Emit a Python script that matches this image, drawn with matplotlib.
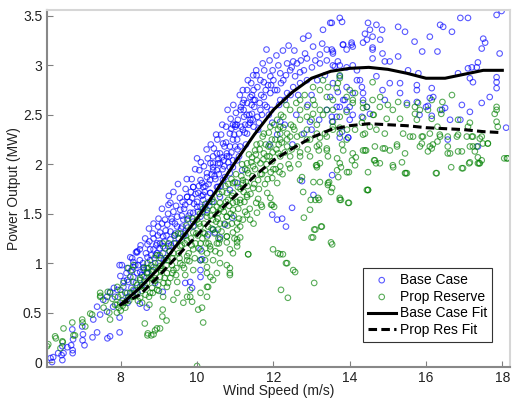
import matplotlib
matplotlib.use("Agg")
import matplotlib.pyplot as plt

# wind speed (m/s), power (MW)
base_case = [
    (6.16, 0.04), (6.2, 0.0), (6.47, 0.02), (6.45, 0.07), (6.74, 0.09), (6.7, 0.17), (7.0, 0.22), (7.05, 0.17),
    (7.26, 0.25), (7.65, 0.24), (7.97, 0.3), (6.5, 0.09), (6.74, 0.12), (7.97, 0.45), (8.5, 0.59), (8.68, 0.55),
    (7.97, 0.98), (8.4, 1.11), (8.9, 0.8), (9.1, 0.71), (7.72, 0.26), (7.38, 0.3), (7.01, 0.28), (6.75, 0.23),
    (6.6, 0.15), (6.36, 0.09), (6.23, 0.05), (6.47, 0.16), (6.73, 0.33), (6.99, 0.36), (7.28, 0.43), (7.46, 0.48),
    (7.64, 0.51), (7.8, 0.56), (7.54, 0.63), (7.38, 0.56), (7.85, 0.66), (7.91, 0.73), (8.07, 0.76), (8.2, 0.81),
    (8.33, 0.86), (8.51, 0.91), (8.6, 0.96), (8.77, 1.03), (8.95, 1.1), (9.11, 1.17), (9.3, 1.24), (9.43, 1.3),
    (9.61, 1.37), (9.74, 1.44), (9.9, 1.51), (10.09, 1.57), (9.03, 1.31),
    (10.0, 2.06), (10.52, 2.11), (10.6, 2.01), (10.42, 1.94), (10.26, 1.87), (10.16, 1.77), (10.03, 1.71),
    (9.87, 1.66), (9.69, 1.59), (9.3, 1.61), (9.56, 1.54), (9.48, 1.47), (9.35, 1.42), (9.22, 1.39), (8.86, 1.25),
    (8.7, 1.19), (8.5, 1.14), (8.43, 1.11), (8.33, 1.01), (8.17, 0.95), (8.03, 0.98), (7.82, 0.75), (7.72, 0.71),
    (8.98, 1.37), (9.16, 1.44), (9.38, 1.52), (9.74, 1.67), (9.9, 1.77), (10.09, 1.84), (10.35, 2.01), (10.42, 2.08),
    (8.77, 1.14), (8.95, 1.2), (9.11, 1.27), (9.3, 1.32), (9.48, 1.37), (9.64, 1.44), (9.82, 1.51), (10.0, 1.57),
    (10.16, 1.64), (10.35, 1.71), (10.52, 1.77), (10.68, 1.84), (10.86, 1.91), (10.94, 1.97), (11.05, 2.04),
    (8.25, 1.06), (8.33, 0.96), (8.5, 1.03), (8.7, 1.06), (8.86, 1.14), (9.03, 1.2), (7.99, 0.87), (8.17, 0.83),
    (8.43, 0.9), (8.6, 0.93), (9.11, 1.1), (9.25, 1.17), (9.64, 1.27), (9.9, 1.37), (10.09, 1.47), (10.26, 1.54),
    (10.6, 1.67), (10.86, 1.74), (9.82, 0.81), (9.69, 0.8), (10.09, 0.86), (10.09, 1.03), (10.47, 1.31),
    (11.05, 1.81), (11.18, 1.94), (7.64, 0.66), (9.25, 1.59), (8.43, 1.12), (10.09, 0.93), (10.09, 1.14),
    (10.13, 1.04), (9.87, 0.75),
    (10.94, 2.4), (10.86, 2.31), (10.68, 2.21), (10.6, 2.11), (10.42, 2.01), (10.26, 1.91), (10.13, 1.81),
    (10.34, 1.84), (10.52, 1.94), (10.78, 2.08), (11.05, 2.25), (11.2, 2.35), (11.39, 2.42), (11.13, 2.18),
    (10.94, 2.04), (10.16, 1.69), (10.34, 1.71), (10.55, 1.77), (10.73, 1.87), (10.86, 1.97), (10.21, 1.57),
    (10.42, 1.34), (10.92, 1.46), (10.73, 1.39), (10.6, 1.26), (10.29, 1.29), (11.97, 1.49), (13.05, 1.69),
    (13.54, 1.89), (13.74, 2.27), (13.96, 2.27), (12.8, 2.31), (12.96, 2.43), (13.54, 2.43), (12.1, 1.44),
    (12.23, 1.45), (12.33, 1.37), (12.18, 2.43), (11.97, 2.42), (12.49, 1.56), (12.75, 1.83),
    (13.74, 3.48), (13.8, 3.44), (13.49, 3.43), (13.3, 3.36), (14.05, 3.23), (14.08, 3.19), (13.83, 3.21),
    (13.92, 3.16), (13.56, 3.14), (13.4, 3.16), (13.22, 3.11), (13.04, 3.19), (12.78, 3.27), (12.83, 3.12),
    (12.88, 3.07), (12.62, 3.02), (12.52, 3.04), (12.36, 3.02), (12.13, 3.0), (11.82, 3.16), (12.44, 2.95),
    (12.18, 2.92), (11.92, 2.89), (11.75, 2.83), (12.0, 2.85), (12.26, 2.85), (12.57, 2.89), (12.7, 2.93),
    (13.01, 2.98), (13.22, 3.02), (13.4, 3.05), (13.56, 3.0), (13.74, 3.0), (13.92, 2.98), (14.08, 3.0),
    (14.19, 2.95), (14.19, 2.85), (13.92, 2.78), (14.08, 2.72), (13.83, 2.65), (14.0, 2.58), (13.66, 2.58),
    (13.49, 2.68), (13.4, 2.55), (13.66, 2.48), (14.08, 2.5), (11.66, 2.85), (11.58, 2.78), (11.48, 2.75),
    (11.31, 2.75), (11.4, 2.68), (11.23, 2.65), (11.15, 2.58), (11.31, 2.62), (11.48, 2.65), (11.75, 2.68),
    (11.92, 2.72), (12.1, 2.75), (11.83, 2.58), (11.66, 2.55), (11.44, 2.51), (11.23, 2.48), (11.07, 2.45),
    (11.0, 2.38), (11.1, 2.31), (10.94, 2.25), (10.86, 2.18), (10.78, 2.11), (10.65, 2.07), (10.55, 2.01),
    (10.42, 1.97), (10.7, 2.04), (11.26, 2.4), (11.4, 2.45), (11.58, 2.48), (11.31, 2.31), (11.48, 2.38),
    (12.18, 2.65), (12.36, 2.72), (12.52, 2.78), (12.7, 2.82), (12.88, 2.85), (11.44, 2.7), (11.2, 2.62),
    (11.0, 2.4), (9.9, 1.77), (9.74, 1.67), (12.3, 2.4), (12.6, 2.5), (12.9, 2.6), (13.2, 2.45), (12.5, 2.2),
    (13.0, 2.35), (12.1, 2.3), (11.9, 2.2),
    (13.53, 3.43), (14.48, 3.43), (14.7, 3.41), (14.85, 3.36), (14.4, 3.32), (14.53, 3.36), (15.27, 3.39),
    (15.45, 3.34), (16.1, 3.29), (16.37, 3.41), (16.45, 3.39), (16.68, 3.34), (16.9, 3.48), (17.1, 3.48),
    (17.85, 3.51), (17.98, 3.55), (17.5, 3.27), (17.55, 3.23), (17.46, 3.17), (17.93, 3.12), (16.3, 3.14),
    (15.9, 3.14), (15.7, 3.24), (13.82, 3.21), (14.05, 3.21), (14.35, 3.23), (14.45, 3.26), (14.6, 3.29),
    (14.8, 3.26), (14.6, 3.18), (14.86, 3.12), (14.6, 3.07), (14.92, 3.04), (15.05, 3.04), (15.27, 3.09),
    (15.53, 2.95), (15.8, 2.92), (15.76, 2.8), (15.76, 2.75), (16.15, 2.77), (16.1, 2.67), (16.19, 2.68),
    (16.84, 2.92), (17.15, 2.87), (17.23, 2.83), (17.1, 2.97), (17.2, 2.98), (17.33, 2.98), (17.36, 3.03),
    (17.85, 2.88), (17.85, 2.83), (17.85, 2.77), (17.67, 2.68), (17.46, 2.62), (17.15, 2.53), (16.94, 2.6),
    (16.5, 2.57), (16.42, 2.55), (16.05, 2.59), (16.15, 2.49), (16.63, 2.45), (15.83, 2.5), (15.5, 2.62),
    (15.32, 2.72), (15.05, 2.82), (15.32, 2.82), (16.0, 2.58), (18.1, 2.37), (17.36, 2.18), (16.57, 2.25),
    (16.9, 2.45), (15.76, 2.63), (13.53, 3.16), (13.56, 3.12), (13.69, 3.04), (13.61, 2.99), (13.74, 2.89),
    (13.56, 2.82), (13.69, 2.73), (13.87, 2.65), (13.74, 2.58), (13.92, 2.55), (13.53, 2.48), (14.0, 2.45),
    (13.8, 2.33), (13.96, 2.27), (14.27, 2.85), (14.32, 2.78), (14.35, 2.72), (14.35, 2.65), (14.45, 2.58),
    (14.53, 2.51), (14.32, 2.48), (14.7, 2.89), (14.86, 2.75), (14.92, 2.65), (14.6, 3.16),
    (8.05, 0.62), (8.12, 0.7), (8.2, 0.66), (8.28, 0.75), (8.35, 0.72), (8.4, 0.8), (8.46, 0.98), (8.55, 0.88),
    (8.15, 0.9), (8.3, 1.05), (8.58, 1.0), (8.62, 0.82), (8.66, 1.1), (8.72, 0.95), (8.8, 1.08), (8.84, 1.3),
    (8.9, 1.0), (8.93, 1.18), (8.97, 1.28), (8.75, 1.22), (9.05, 1.05), (9.08, 1.4), (9.14, 1.22), (9.18, 1.33),
    (9.24, 1.5), (9.28, 1.12), (9.33, 1.45), (9.4, 1.28), (9.45, 1.58), (9.42, 1.4), (9.52, 1.25), (9.55, 1.66),
    (9.6, 1.48), (9.66, 1.55), (9.7, 1.75), (9.76, 1.36), (9.8, 1.62), (9.86, 1.85), (9.92, 1.6), (9.96, 1.7),
    (10.02, 1.52), (10.06, 1.94), (10.12, 1.68), (10.18, 1.98), (10.22, 1.78), (10.28, 2.06), (10.32, 1.62),
    (10.38, 1.9), (10.44, 2.16), (10.48, 1.85), (10.53, 2.25), (10.57, 1.9), (10.63, 2.3), (10.67, 1.95),
    (10.72, 2.18), (10.76, 2.38), (10.82, 2.02), (10.88, 2.46), (10.9, 2.12), (10.97, 2.3), (11.02, 2.52),
    (11.06, 2.15), (11.12, 2.7), (11.16, 2.38), (11.22, 2.55), (11.28, 2.2), (11.33, 2.85), (11.37, 2.5),
    (11.43, 2.6), (11.47, 2.9), (11.52, 2.65), (11.55, 2.95), (11.62, 2.42), (11.68, 2.7), (11.72, 3.02),
    (11.78, 2.6), (11.86, 2.8), (11.9, 3.05), (11.95, 2.55), (11.98, 2.95), (12.04, 2.75), (12.08, 3.1),
    (12.15, 2.6), (12.2, 2.82), (12.25, 3.15), (12.3, 2.65), (12.33, 2.9), (12.4, 3.2), (12.45, 2.7),
    (12.48, 2.98), (12.55, 3.15), (12.65, 2.7), (12.72, 3.05), (12.8, 2.95), (12.92, 3.3), (13.0, 2.7),
    (13.1, 3.05), (13.15, 2.85), (13.28, 3.22), (13.35, 2.9),
    (8.08, 0.82), (8.18, 0.6), (8.26, 0.92), (8.38, 0.98), (8.44, 0.7), (8.52, 1.18), (8.56, 0.78), (8.64, 1.25),
    (8.68, 0.9), (8.74, 1.35), (8.82, 0.92), (8.86, 1.4), (8.92, 1.08), (8.99, 1.45), (9.02, 1.15), (9.08, 1.55),
    (9.13, 1.03), (9.2, 1.28), (9.26, 1.68), (9.32, 1.18), (9.38, 1.72), (9.44, 1.2), (9.5, 1.8), (9.58, 1.35),
    (9.62, 1.62), (9.68, 1.3), (9.73, 1.85), (9.78, 1.48), (9.84, 1.72), (9.9, 1.42), (9.95, 1.95), (10.0, 1.62),
    (10.05, 1.78), (10.1, 2.02), (10.15, 1.52), (10.2, 1.72), (10.25, 2.15), (10.3, 1.8), (10.36, 2.2),
    (10.4, 1.62), (10.46, 1.88), (10.5, 2.3), (10.56, 2.05), (10.62, 1.78), (10.66, 2.4), (10.71, 1.98),
    (10.76, 2.22), (10.8, 2.55), (10.84, 2.08), (10.9, 2.36), (10.95, 2.6), (11.0, 2.18), (11.04, 2.4),
    (11.1, 2.08), (11.14, 2.55), (11.2, 2.75), (11.25, 2.32), (11.3, 2.5), (11.35, 2.4), (11.42, 2.82),
    (11.46, 2.45), (11.5, 2.58), (11.56, 2.9), (11.6, 2.35), (11.64, 2.62), (11.7, 2.5), (11.76, 2.95),
    (11.8, 2.75), (11.88, 2.5), (11.94, 2.8),
]

prop_reserve = [
    (6.07, 0.16), (6.3, 0.24), (6.48, 0.2), (6.42, 0.14), (6.8, 0.27), (8.7, 0.27), (8.8, 0.27), (8.9, 0.32),
    (10.0, -0.04), (6.5, 0.34), (6.76, 0.27), (7.0, 0.4), (7.2, 0.49), (7.47, 0.67), (7.66, 0.71), (7.9, 0.58),
    (8.2, 0.95), (8.63, 0.39), (8.95, 0.34), (9.1, 0.53), (9.2, 0.42), (6.99, 0.43), (6.73, 0.4), (6.28, 0.26),
    (6.1, 0.18), (6.47, 0.21), (7.25, 0.48), (7.46, 0.66), (7.46, 0.7), (7.07, 0.36), (7.72, 0.43), (7.99, 0.6),
    (7.93, 0.66), (8.17, 0.63), (8.25, 0.7), (8.43, 0.78), (8.51, 0.83), (8.6, 0.86), (8.71, 0.91), (8.86, 0.96),
    (8.99, 1.0), (8.33, 0.98), (8.3, 0.93), (7.95, 0.55), (8.0, 0.52), (8.05, 0.57), (7.9, 0.5), (8.1, 0.6),
    (8.71, 0.29), (8.86, 0.28), (9.03, 0.34), (9.09, 0.46), (9.38, 0.63), (9.64, 0.6), (9.82, 0.66), (9.87, 0.61),
    (10.03, 0.53), (10.13, 0.55), (10.16, 0.4), (10.26, 0.66), (10.29, 0.76), (10.35, 0.86), (10.52, 0.9),
    (10.86, 0.88), (11.34, 1.09), (10.94, 1.1), (10.78, 0.98), (9.74, 1.03), (9.35, 0.9),
    (10.0, 1.44), (10.26, 1.51), (10.52, 1.57), (10.94, 1.61), (11.26, 1.52), (11.05, 1.41), (10.78, 1.27),
    (11.05, 1.21), (10.52, 1.2), (10.26, 1.1),
    (7.99, 0.73), (8.17, 0.7), (8.33, 0.73), (8.51, 0.76), (8.69, 0.8), (8.86, 0.83), (9.03, 0.86), (9.21, 0.9),
    (9.38, 0.93), (9.56, 1.0), (9.74, 1.07), (9.9, 1.14), (10.09, 1.2), (10.26, 1.27), (10.42, 1.34), (10.6, 1.4),
    (10.78, 1.47), (10.94, 1.54), (11.13, 1.61), (11.31, 1.67), (11.2, 1.81), (11.31, 1.94), (10.94, 1.81),
    (10.78, 1.71), (10.6, 1.61), (10.42, 1.54), (10.26, 1.47), (10.09, 1.37), (9.9, 1.31), (9.74, 1.23),
    (9.56, 1.17), (9.38, 1.1), (9.21, 1.03), (9.03, 0.97), (8.86, 0.93), (8.69, 0.9), (8.51, 0.85), (8.33, 0.81),
    (8.25, 0.86), (8.07, 0.8), (7.91, 0.76), (7.72, 0.7), (8.95, 0.73), (9.21, 0.76), (9.48, 0.81), (9.69, 0.88),
    (9.9, 0.93), (10.09, 1.03), (10.35, 1.14), (10.57, 1.2), (10.78, 1.27), (11.05, 1.34), (11.2, 1.44),
    (10.6, 1.0), (10.86, 1.14), (11.05, 1.24), (10.09, 0.7), (10.26, 0.76), (10.42, 0.83), (9.82, 0.73),
    (9.74, 0.66), (9.48, 0.7), (8.77, 0.7), (8.33, 0.66), (8.51, 0.65), (9.11, 0.66),
    (12.18, 2.31), (12.36, 2.25), (12.62, 2.18), (12.7, 2.12), (12.44, 1.96), (12.18, 1.98), (11.97, 1.86),
    (12.1, 1.81), (11.84, 1.71), (11.92, 1.66), (11.7, 1.57), (11.57, 1.51), (11.39, 1.44), (11.31, 1.49),
    (11.13, 1.37), (10.94, 1.31), (10.78, 1.21), (10.6, 1.1), (10.42, 1.03), (10.26, 0.96), (10.86, 0.9),
    (11.34, 1.09), (11.99, 1.14), (12.18, 1.09), (12.36, 1.0), (12.57, 0.91), (13.0, 1.26), (13.1, 1.34),
    (13.27, 1.37), (13.54, 1.19), (12.96, 1.54), (13.1, 1.64), (13.74, 1.64), (13.96, 1.61), (14.45, 1.74),
    (13.54, 1.76), (13.43, 1.81), (13.22, 1.82), (13.05, 1.82), (12.7, 1.84), (12.75, 1.87), (13.14, 1.99),
    (13.67, 1.94), (13.93, 1.92), (14.06, 2.04), (14.14, 1.99), (13.43, 2.08), (13.67, 2.06), (13.8, 2.2),
    (13.19, 2.14), (13.4, 2.16), (14.35, 2.14), (14.35, 2.3), (14.14, 2.35), (13.93, 2.35), (13.74, 2.37),
    (13.56, 2.35), (13.35, 2.31), (13.22, 2.27), (12.96, 2.25), (12.88, 2.35), (13.14, 2.4), (12.44, 2.28),
    (12.26, 2.37), (12.05, 2.25), (11.87, 2.18), (11.75, 2.11), (11.57, 2.04), (11.47, 1.98), (11.34, 1.91),
    (11.2, 1.84), (11.07, 1.77), (10.94, 1.71), (10.81, 1.64), (10.68, 1.57), (10.55, 1.51), (10.42, 1.44),
    (10.29, 1.37), (10.16, 1.31), (11.97, 1.59), (11.47, 1.76), (11.6, 1.84), (11.78, 1.94), (11.97, 2.03),
    (12.13, 2.11), (11.13, 1.64), (11.31, 1.69), (10.78, 1.47), (10.55, 1.34), (10.91, 1.4), (10.34, 1.17),
    (10.6, 1.24), (11.05, 1.17), (11.13, 1.26), (10.21, 1.03), (10.26, 0.9), (10.86, 0.95),
    (11.55, 1.61), (11.68, 1.59), (11.94, 1.59), (12.02, 1.57), (12.8, 1.46), (13.04, 1.26), (13.07, 1.34),
    (13.25, 1.37), (13.51, 1.21), (12.12, 1.1), (12.25, 1.09), (12.33, 1.0), (12.52, 0.93), (13.07, 0.8),
    (12.2, 0.73), (12.38, 0.65), (12.98, 1.64), (13.2, 1.64), (13.77, 1.64), (13.98, 1.61),
    (13.3, 2.85), (13.22, 2.75), (13.74, 2.87), (13.66, 2.77), (13.4, 2.68), (13.04, 2.65), (12.88, 2.58),
    (12.7, 2.55), (12.44, 2.55), (12.26, 2.48), (12.1, 2.45), (11.92, 2.38), (11.75, 2.31), (11.66, 2.21),
    (11.52, 2.14), (11.44, 2.07), (11.31, 2.01), (12.18, 2.38), (12.36, 2.31), (12.52, 2.38), (12.7, 2.45),
    (12.88, 2.48), (13.04, 2.51), (13.22, 2.55), (13.4, 2.55), (13.56, 2.55), (12.62, 2.28), (12.88, 2.25),
    (13.14, 2.31), (13.4, 2.28), (13.56, 2.38), (13.74, 2.31), (13.92, 2.25), (14.08, 2.11), (13.83, 2.14),
    (13.4, 2.14), (13.14, 2.18), (12.36, 2.18), (12.18, 2.25), (11.92, 2.18), (11.83, 2.08), (11.66, 2.01),
    (12.18, 2.08), (12.44, 2.08), (12.7, 2.08), (12.96, 2.08), (13.22, 2.01), (13.74, 2.01), (13.14, 1.97),
    (13.92, 2.68), (14.0, 2.75), (14.08, 2.62), (13.43, 2.78), (13.04, 2.78), (12.7, 2.65),
    (14.45, 2.58), (14.79, 2.58), (15.0, 2.6), (15.27, 2.63), (15.71, 2.58), (15.71, 2.51), (16.05, 2.55),
    (16.4, 2.51), (16.15, 2.46), (17.15, 2.42), (17.1, 2.38), (17.85, 2.58), (17.8, 2.51), (17.85, 2.43),
    (17.88, 2.38), (14.32, 2.42), (14.53, 2.38), (14.4, 2.31), (14.7, 2.35), (14.92, 2.31), (15.4, 2.31),
    (15.66, 2.28), (15.89, 2.28), (16.1, 2.31), (16.3, 2.38), (16.36, 2.3), (16.57, 2.28), (16.84, 2.3),
    (17.07, 2.28), (17.2, 2.28), (17.41, 2.26), (17.62, 2.21), (17.49, 2.21), (17.23, 2.18), (17.28, 2.13),
    (17.36, 2.07), (17.46, 2.04), (17.15, 2.02), (17.36, 2.01), (16.94, 1.96), (16.28, 1.91), (16.63, 2.11),
    (16.84, 2.13), (18.12, 2.06), (16.15, 2.16), (16.05, 2.13), (16.3, 2.23), (15.89, 2.21), (15.45, 2.11),
    (15.37, 2.02), (15.14, 1.97), (15.45, 1.91), (14.4, 2.14), (14.66, 2.18), (14.92, 2.16), (15.24, 2.2),
    (14.66, 2.04), (14.79, 2.01), (14.48, 1.92), (14.48, 1.74), (15.5, 2.6), (15.79, 2.62), (14.35, 2.47),
    (14.61, 2.5), (16.43, 2.63),
    (13.46, 1.82), (13.7, 1.87), (13.12, 1.99), (13.77, 1.97), (13.98, 1.92), (14.16, 2.07), (14.43, 2.14),
    (14.64, 2.04), (14.69, 2.01), (15.13, 1.99), (15.47, 1.91), (16.26, 1.91), (16.66, 1.97), (16.97, 1.96),
    (17.13, 2.01), (17.39, 2.01), (18.14, 2.06), (12.78, 1.72), (13.17, 1.66), (13.51, 1.72), (13.43, 1.79),
    (14.48, 1.74), (15.5, 1.91), (13.74, 1.66), (14.87, 2.16), (15.24, 2.18), (15.84, 2.18), (16.18, 2.2),
    (16.57, 2.18), (16.57, 2.11), (16.94, 2.13), (17.15, 2.18), (17.33, 2.18), (17.41, 2.01), (18.05, 2.06),
    (17.85, 2.55), (15.58, 2.28), (15.92, 2.28), (16.1, 2.18), (16.37, 2.28), (16.81, 2.28), (17.23, 2.28),
    (17.46, 2.28), (17.62, 2.21), (15.05, 2.14), (15.13, 2.55), (14.97, 2.46), (14.63, 2.5), (14.35, 2.57),
    (14.6, 2.83), (14.8, 2.68), (14.6, 2.65), (14.35, 2.62), (14.14, 2.72), (14.08, 2.65), (13.92, 2.53),
    (13.74, 2.48), (13.56, 2.43), (13.56, 2.65), (13.74, 2.9), (13.69, 2.82), (16.37, 2.55), (16.15, 2.65),
    (15.76, 2.45), (15.32, 2.46), (15.84, 2.55), (16.84, 2.45), (16.68, 2.7),
    (7.55, 0.55), (7.6, 0.62), (7.7, 0.5), (7.78, 0.64), (7.85, 0.58), (8.02, 0.68), (8.12, 0.55), (8.22, 0.62),
    (8.38, 0.7), (8.45, 0.62), (8.55, 0.72), (8.6, 0.95), (8.65, 0.68), (8.7, 1.0), (8.78, 0.85), (8.82, 0.75),
    (8.88, 1.05), (8.92, 0.9), (8.98, 0.78), (8.75, 0.58), (9.02, 1.08), (9.06, 0.92), (9.12, 0.8), (9.16, 1.15),
    (9.2, 0.98), (9.26, 1.2), (9.3, 0.85), (9.36, 1.05), (9.42, 1.28), (9.46, 0.95), (9.52, 1.1), (9.58, 1.3),
    (9.62, 0.98), (9.68, 1.2), (9.72, 1.38), (9.78, 1.1), (9.84, 1.25), (9.88, 1.45), (9.94, 1.05), (9.98, 1.3),
    (10.04, 1.15), (10.08, 1.5), (10.14, 1.25), (10.18, 1.4), (10.22, 1.6), (10.3, 1.2), (10.36, 1.48),
    (10.4, 1.65), (10.46, 1.3), (10.48, 1.12), (10.54, 1.45), (10.58, 1.7), (10.64, 1.32), (10.7, 1.52),
    (10.74, 1.78), (10.8, 1.38), (10.84, 1.58), (10.9, 1.85), (10.96, 1.48), (10.98, 1.25), (11.02, 1.9),
    (11.08, 1.55), (11.14, 1.75), (11.18, 2.0), (11.24, 1.62), (11.28, 1.82), (11.36, 2.1), (11.4, 1.7),
    (11.45, 1.88), (11.48, 1.4), (11.52, 1.95), (11.56, 2.2), (11.62, 1.75), (11.66, 1.9), (11.72, 2.28),
    (11.78, 1.8), (11.82, 2.0), (11.88, 2.32), (11.93, 1.92), (11.98, 2.12), (12.02, 2.4), (12.06, 1.95),
    (12.14, 2.2), (12.2, 2.5), (12.24, 1.9), (12.3, 2.12), (12.34, 2.6), (12.4, 2.0), (12.46, 2.4),
    (12.48, 2.15), (12.55, 2.35), (12.6, 2.62), (12.66, 2.0), (12.74, 2.3), (12.82, 2.7), (12.9, 2.15),
    (13.0, 2.45), (13.08, 2.6), (13.2, 2.2), (13.3, 2.5),
    (8.56, 0.6), (8.62, 0.78), (8.68, 0.95), (8.74, 0.66), (8.8, 0.98), (8.84, 0.7), (8.9, 0.82), (8.96, 1.08),
    (9.0, 0.72), (9.05, 0.95), (9.1, 1.2), (9.15, 0.85), (9.18, 1.05), (9.24, 0.8), (9.28, 1.12), (9.34, 0.98),
    (9.4, 1.2), (9.45, 0.88), (9.5, 1.3), (9.54, 1.05), (9.6, 1.18), (9.66, 0.95), (9.7, 1.28), (9.76, 1.45),
    (9.8, 1.02), (9.86, 1.18), (9.92, 1.38), (9.96, 1.2), (10.02, 1.28), (10.06, 1.4), (10.12, 1.12),
    (10.16, 1.55), (10.2, 1.3), (10.24, 1.2), (10.32, 1.58), (10.38, 1.35), (10.44, 1.62), (10.5, 1.42),
    (10.56, 1.25), (10.62, 1.55), (10.66, 1.72), (10.72, 1.4), (10.76, 1.62), (10.82, 1.8), (10.88, 1.5),
    (10.92, 1.68), (10.99, 1.82), (11.04, 1.62), (11.1, 1.45), (11.16, 1.88), (11.22, 1.72), (11.26, 1.95),
    (11.32, 1.78), (11.38, 1.55), (11.42, 2.02), (11.5, 1.8), (11.54, 2.1), (11.6, 1.65), (11.64, 2.15),
    (11.7, 1.9), (11.74, 2.05), (11.8, 2.2), (11.85, 1.85), (11.9, 2.08), (11.96, 2.25), (12.0, 1.95),
    (12.08, 2.15), (12.12, 2.35), (12.16, 1.92), (12.22, 2.22),
]

# fitted curves
fit_speed = [8.0, 8.5, 9.0, 9.5, 10.0, 10.5, 11.0, 11.5, 12.0, 12.5, 13.0, 13.5, 14.0, 14.5, 15.0,
             15.5, 16.0, 16.5, 17.0, 17.5, 18.0]
base_fit = [0.58, 0.75, 0.95, 1.2, 1.45, 1.73, 2.02, 2.3, 2.55, 2.73, 2.87, 2.94, 2.97, 2.98, 2.96,
            2.92, 2.87, 2.87, 2.91, 2.95, 2.95]
prop_fit = [0.58, 0.68, 0.87, 1.08, 1.28, 1.5, 1.68, 1.88, 2.04, 2.16, 2.27, 2.35, 2.39, 2.41, 2.4,
            2.39, 2.37, 2.36, 2.35, 2.33, 2.32]

x_ticks = [8, 10, 12, 14, 16, 18]
y_ticks = [0, 0.5, 1, 1.5, 2, 2.5, 3, 3.5]
y_tick_labels = ['0', '0.5', '1', '1.5', '2', '2.5', '3', '3.5']

plt.rcParams['font.family'] = ['Liberation Sans', 'DejaVu Sans']

fig = plt.figure(figsize=(5.12, 4.0), dpi=100)
ax = fig.add_axes([0.092, 0.0825, 0.904, 0.8925])

bx, by = zip(*base_case)
gx, gy = zip(*prop_reserve)
ax.scatter(bx, by, s=16, facecolors='none', edgecolors='#0000ff', linewidths=0.8, alpha=0.65,
           label='Base Case')
ax.scatter(gx, gy, s=16, facecolors='none', edgecolors='#008000', linewidths=0.8, alpha=0.65,
           label='Prop Reserve')
ax.plot(fit_speed, base_fit, color='black', lw=2.2, label='Base Case Fit')
ax.plot(fit_speed, prop_fit, color='black', lw=2.2, dashes=(2.8, 1.4), label='Prop Res Fit')

ax.set_xlim(6.07, 18.2)
ax.set_ylim(-0.05, 3.56)
ax.set_xticks(x_ticks)
ax.set_yticks(y_ticks)
ax.set_yticklabels(y_tick_labels)
ax.tick_params(direction='in', length=4, width=0.8, color='#808080', labelsize=10, labelcolor='#222222')
ax.tick_params(axis='x', pad=3)

for side in ['left', 'bottom']:
    ax.spines[side].set_color('#888888')
    ax.spines[side].set_linewidth(1.5)
for side in ['top', 'right']:
    ax.spines[side].set_color('#d6d6d6')
    ax.spines[side].set_linewidth(1.5)

ax.set_xlabel('Wind Speed (m/s)', fontsize=10, color='#222222', labelpad=-1)
ax.set_ylabel('Power Output (MW)', fontsize=10, color='#222222', labelpad=1)

leg = ax.legend(loc='lower right', bbox_to_anchor=(0.961, 0.07), borderaxespad=0, fontsize=10,
                fancybox=False, framealpha=1, edgecolor='#333333', handlelength=2.0,
                handletextpad=0.3, labelspacing=0.2, borderpad=0.35, markerscale=1.0)
leg.get_frame().set_linewidth(0.8)

fig.savefig('out.png', dpi=100)
